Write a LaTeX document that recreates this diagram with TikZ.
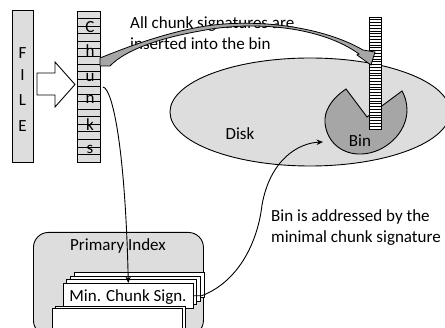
\documentclass[tikz,border=0pt]{standalone}
\usepackage{fontspec}
\setmainfont{Carlito}
\usetikzlibrary{arrows.meta,shapes.geometric}
\definecolor{palegray}{HTML}{DDDDDD}
\definecolor{midgray}{HTML}{A6A6A6}
\begin{document}
\begin{tikzpicture}[x=1pt,y=-1pt,
  every node/.style={font=\fontsize{17}{20}\selectfont, inner sep=0pt},
  outline/.style={draw=black, line width=0.9pt},
  column/.style={outline, fill=palegray, anchor=north west},
  card/.style={draw=black, line width=0.6pt, fill=white},
  conn/.style={line width=0.9pt, -{Stealth[length=6.5pt,width=5.5pt]}},
  rowline/.style={line width=0.6pt},
]
\useasboundingbox (0,0) rectangle (445,328);

% the file
\node[column, minimum width=21pt, minimum height=152pt] (file) at (12,10) {};
\node[anchor=base] (fF) at (22.5,59) {F};
\node[anchor=base] (fI) at (22.5,81) {I};
\node[anchor=base] (fL) at (22.5,106) {L};
\node[anchor=base] (fE) at (22.5,132) {E};

% chunking step
\draw[outline, fill=white] (37,73) -- (55,73) -- (55,62) -- (75,84.5) -- (55,107) -- (55,95) -- (37,95) -- cycle;

% the chunk column
\node[column, minimum width=23pt, minimum height=151pt] (chunks) at (77,11) {};
\foreach \i in {1,...,19}
  \draw[rowline] (77,{11+\i*7.55}) -- (100,{11+\i*7.55});
\node[anchor=base] (cC) at (90,33) {C};
\node[anchor=base] (ch) at (90,57) {h};
\node[anchor=base] (cu) at (90,82) {u};
\node[anchor=base] (cn) at (90,104) {n};
\node[anchor=base] (ck) at (90,131) {k};
\node[anchor=base] (cs) at (90,154) {s};

% the disk with its bin
\node[ellipse, outline, fill=palegray, minimum width=280pt, minimum height=108pt] (disk) at (310,112) {};
\node[anchor=base] (disklabel) at (240,140) {Disk};
\draw[outline, fill=midgray] (346,89) .. controls (330,100) and (324,112) .. (325,123)
  .. controls (327,143) and (343,155) .. (362,154)
  .. controls (385,153) and (407,133) .. (407,110)
  .. controls (407,103) and (405,96) .. (402,91) -- (367,117) -- cycle;
\node[anchor=base] (binlabel) at (360,147) {Bin};

% signatures stored in the bin
\node[outline, fill=white, anchor=north west, minimum width=12pt, minimum height=112pt] (binstack) at (369,17) {};
\foreach \i in {1,...,39}
  \draw[line width=0.7pt] (369,{17+\i*2.8}) -- (381,{17+\i*2.8});

% insertion note and curved arrow
\node[anchor=base west] (ins1) at (130,29) {All chunk signatures are};
\node[anchor=base west] (ins2) at (130,50) {inserted into the bin};
\draw[line width=0.8pt, fill=midgray] (100,66) -- (100,58)
  .. controls (120,50) and (160,34) .. (200,27)
  .. controls (250,18) and (320,25) .. (363,50)
  -- (375,52) -- (371,65) -- (357,55) -- (359,54)
  .. controls (322,27) and (255,20) .. (200,31)
  .. controls (160,38) and (125,50) .. (110,66) -- cycle;

% primary index
\node[outline, fill=palegray, rounded corners=15pt, anchor=north west,
      minimum width=170pt, minimum height=103pt] (pindex) at (33,232) {};
\node[anchor=base] (pindexlabel) at (118,251) {Primary Index};
\foreach \k in {3,2,1}
  \draw[card] ({63+3.7*\k},{283-3.5*\k}) rectangle ++(130,25);
\node[card, anchor=north west, minimum width=130pt, minimum height=25pt] (mincard) at (63,283) {};
\node[anchor=base] (minlabel) at (128,302) {Min. Chunk Sign.};
\draw[card] (55,306) rectangle (185,340);
\node[card, anchor=north west, minimum width=130pt, minimum height=34pt] (lowcard) at (52,308) {};

% connectors
\coordinate (chunkout) at ([xshift=2pt]chunks.east);
\coordinate (binentry) at (323,142);
\draw[conn] (chunkout) .. controls +(10,2) and +(-3,-133) .. (mincard.north);
\draw[conn] (mincard.east) -- ++(8,0) .. controls (240,281) and (258,240) .. (262,205)
  .. controls (270,160) and (298,143) .. (binentry);

\node[anchor=base west] (addr1) at (271,222) {Bin is addressed by the};
\node[anchor=base west] (addr2) at (271,243) {minimal chunk signature};
\end{tikzpicture}
\end{document}
